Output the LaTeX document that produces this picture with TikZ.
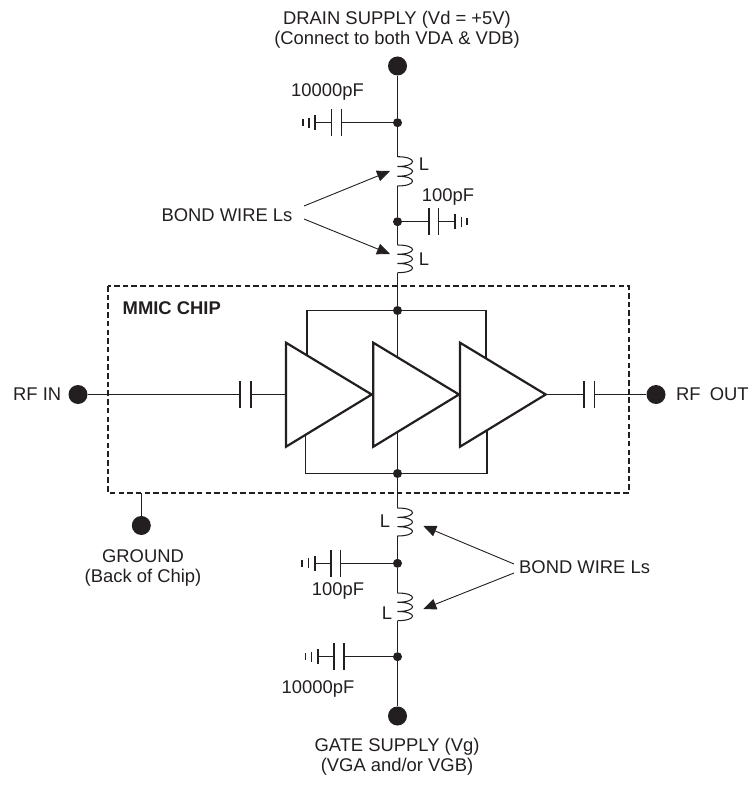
\documentclass[tikz,border=0pt]{standalone}
\usepackage{fontspec}
\setmainfont{Liberation Sans}
\usetikzlibrary{arrows.meta,calc}
\definecolor{ink}{HTML}{231F20}
\tikzset{
  wire/.style={draw=ink,line width=1.05pt},
  term/.style={circle,fill=ink,draw=none,minimum size=19pt,inner sep=0pt},
  dotj/.style={circle,fill=ink,draw=none,minimum size=9pt,inner sep=0pt},
  amp/.style={draw=ink,fill=white,line width=2.2pt,line join=miter},
  chipbox/.style={draw=ink,line width=1.9pt,dash pattern=on 5.5pt off 3.2pt},
  lead/.style={draw=ink,line width=0.9pt,-{Triangle[length=13pt,width=11pt]}},
  lbl/.style={text=ink,font=\fontsize{18.4}{20}\selectfont,inner sep=0pt,align=center}
}
% capacitor: #1 name, #2 first plate x, #3 second plate x, #4 y
\newcommand{\capplates}[4]{%
  \coordinate (#1a) at (#2,#4);\coordinate (#1b) at (#3,#4);
  \draw[wire] (#2,#4-13.5) -- (#2,#4+13.5);
  \draw[wire] (#3,#4-13.5) -- (#3,#4+13.5);}
% ground ticks: #1 x1, #2 x2, #3 x3, #4 y
\newcommand{\gndticks}[4]{%
  \draw[wire] (#1,#4-7.5) -- (#1,#4+7.5);
  \draw[wire] (#2,#4-5) -- (#2,#4+5);
  \draw[wire] (#3,#4-3.5) -- (#3,#4+3.5);}
% inductor from named top #1 to named bottom #2: three right-hand loops
\newcommand{\coil}[2]{%
  \draw[wire] (#1)
     .. controls +(20,0) and +(20,0) .. ($(#1)!0.3333!(#2)$)
     .. controls +(20,0) and +(20,0) .. ($(#1)!0.6667!(#2)$)
     .. controls +(20,0) and +(20,0) .. (#2);}
\begin{document}
\begin{tikzpicture}[x=1pt,y=-1pt]
\useasboundingbox (0,0) rectangle (751,786);

% feedback rails and chip box
\node[dotj] (jt) at (397.5,310.5) {};
\node[dotj] (jb) at (397.5,473.5) {};
\coordinate (rtl) at (307,310.5);\coordinate (rtr) at (486,310.5);
\coordinate (rbl) at (305.7,473.5);\coordinate (rbr) at (487,473.5);
\coordinate (rtl2) at (307,394.5);\coordinate (rtr2) at (486,394.5);
\coordinate (rbl2) at (305.7,394.5);\coordinate (rbr2) at (487,394.5);
\draw[wire] (rtl2) -- (rtl) -- (jt) -- (rtr) -- (rtr2);
\draw[wire] (rbl2) -- (rbl) -- (jb) -- (rbr) -- (rbr2);
\draw[wire] (jt) -- (jb);

% terminals
\node[term] (vd) at (397.5,66) {};
\node[term] (vg) at (397.5,716) {};
\node[term] (rfin) at (78,394.5) {};
\node[term] (rfout) at (656,394.5) {};
\node[term] (gnd) at (141.3,525.5) {};
\coordinate (gndtop) at (141.3,492.7);

% drain side
\node[dotj] (j1) at (397.5,122.7) {};
\node[dotj] (j2) at (397.5,221.7) {};
\coordinate (l1t) at (397.5,156.7);\coordinate (l1b) at (397.5,186);
\coordinate (l2t) at (397.5,245);\coordinate (l2b) at (397.5,272.7);
\draw[wire] (vd) -- (j1) -- (l1t);
\coil{l1t}{l1b}
\draw[wire] (l1b) -- (j2) -- (l2t);
\coil{l2t}{l2b}
\draw[wire] (l2b) -- (jt);

% gate side
\node[dotj] (j3) at (397.5,563.3) {};
\node[dotj] (j4) at (397.5,656.7) {};
\coordinate (l3t) at (397.5,508);\coordinate (l3b) at (397.5,536);
\coordinate (l4t) at (397.5,593);\coordinate (l4b) at (397.5,620.7);
\draw[wire] (jb) -- (l3t);
\coil{l3t}{l3b}
\draw[wire] (l3b) -- (j3) -- (l4t);
\coil{l4t}{l4b}
\draw[wire] (l4b) -- (j4) -- (vg);

% shunt capacitors
\capplates{ca}{331.7}{341.7}{122.7}
\coordinate (ga) at (315,122.7);
\draw[wire] (cab) -- (j1); \draw[wire] (ga) -- (caa);
\gndticks{315}{309}{303}{122.7}

\capplates{cb}{429}{438.7}{221.7}
\coordinate (gb) at (455,221.7);
\draw[wire] (j2) -- (cba); \draw[wire] (cbb) -- (gb);
\gndticks{455}{461.5}{467}{221.7}

\capplates{cc}{331}{340.7}{563.3}
\coordinate (gc) at (315,563.3);
\draw[wire] (ccb) -- (j3); \draw[wire] (gc) -- (cca);
\gndticks{315}{308.5}{302}{563.3}

\capplates{cd}{334}{344}{656.7}
\coordinate (gd) at (318,656.7);
\draw[wire] (cdb) -- (j4); \draw[wire] (gd) -- (cda);
\gndticks{318}{311.7}{305.7}{656.7}

% RF path
\capplates{ci}{240}{251}{394.5}
\capplates{co}{584}{594.7}{394.5}
\coordinate (t1in) at (286,394.5);
\coordinate (t3out) at (545.7,394.5);
\draw[wire] (rfin) -- (cia);
\draw[wire] (cib) -- (t1in);
\draw[wire] (t3out) -- (coa);
\draw[wire] (cob) -- (rfout);

% amplifiers
\draw[amp] (286,342.7) -- (371.7,394.5) -- (286,446.7) -- cycle;
\draw[amp] (373.3,342.7) -- (459,394.5) -- (373.3,446.7) -- cycle;
\draw[amp] (460,342.7) -- (545.7,394.5) -- (460,446.7) -- cycle;

% chip outline and ground
\draw[chipbox] (107.7,286) rectangle (629,492.7);
\draw[wire] (gndtop) -- (gnd);

% leaders
\coordinate (bt) at (304,206);\coordinate (bu) at (304,219);
\coordinate (bv) at (514,564);\coordinate (bw) at (514,573);
\coordinate (tt1) at (390,171);\coordinate (tt2) at (390,254);
\coordinate (tt3) at (423.3,526);\coordinate (tt4) at (423.3,609);
\draw[lead] (bt) -- (tt1);
\draw[lead] (bu) -- (tt2);
\draw[lead] (bv) -- (tt3);
\draw[lead] (bw) -- (tt4);

% labels
\node[lbl] (t1) at (397,29.5) {DRAIN SUPPLY (Vd = +5V)\\(Connect to both VDA \& VDB)};
\node[lbl] (t2) at (327.5,92) {10000pF};
\node[lbl] (t3) at (448,197) {100pF};
\node[lbl] (t4) at (424,164) {L};
\node[lbl] (t5) at (424,259) {L};
\node[lbl] (t6) at (227,215) {BOND WIRE Ls};
\node[lbl,anchor=west,font=\fontsize{18.4}{20}\selectfont\bfseries] (t7) at (122.5,308.5) {MMIC CHIP};
\node[lbl,anchor=west] (t8) at (13,394.5) {RF IN};
\node[lbl,anchor=west] (t9) at (676,394.5) {RF\hspace{4pt} OUT};
\node[lbl] (t10) at (143,567.5) {GROUND\\(Back of Chip)};
\node[lbl] (t11) at (385,521) {L};
\node[lbl] (t12) at (338,591) {100pF};
\node[lbl] (t13) at (387,613) {L};
\node[lbl] (t14) at (318,689) {10000pF};
\node[lbl,anchor=west] (t15) at (519,567.5) {BOND WIRE Ls};
\node[lbl] (t16) at (397,757) {GATE SUPPLY (Vg)\\(VGA and/or VGB)};
\end{tikzpicture}
\end{document}
